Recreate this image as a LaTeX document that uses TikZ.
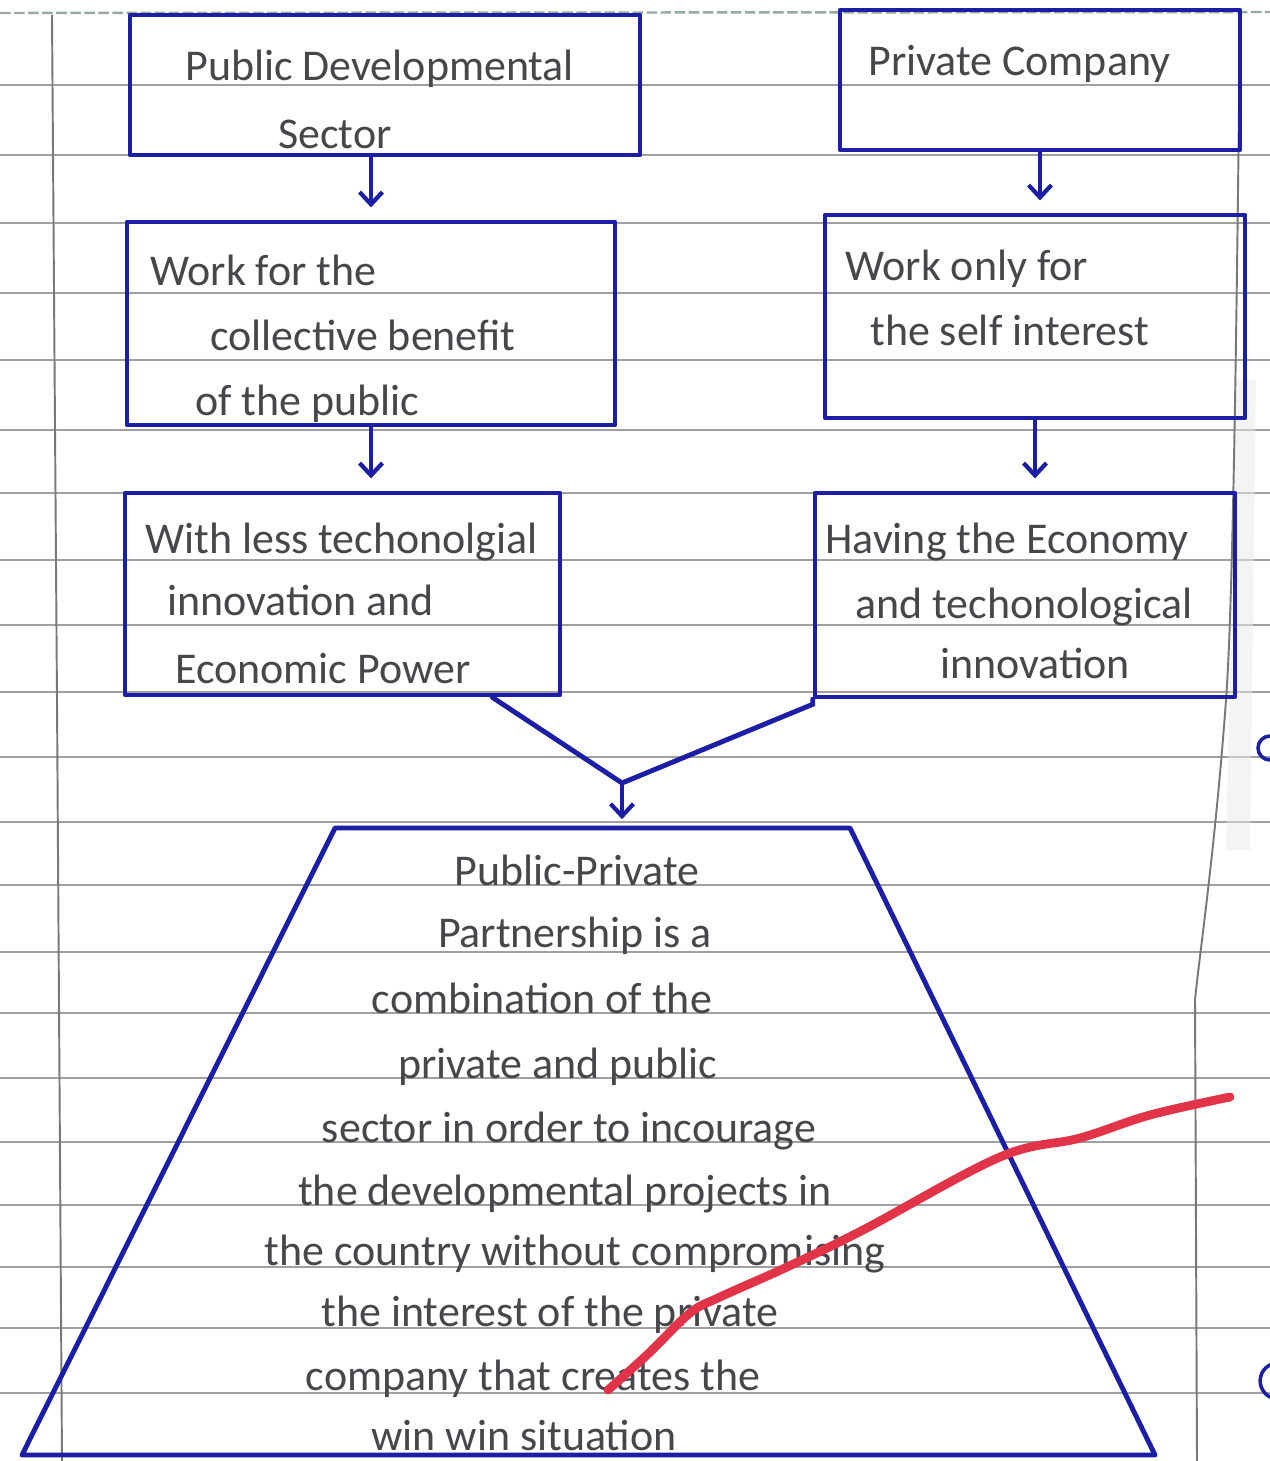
\documentclass[tikz,border=0pt]{standalone}
\usepackage{fontspec}
\setmainfont{Carlito}
\usetikzlibrary{arrows.meta,calc}
\definecolor{ink}{RGB}{28,30,165}
\definecolor{txt}{RGB}{70,70,75}
\definecolor{paperline}{RGB}{160,160,160}
\definecolor{margin}{RGB}{120,120,120}
\definecolor{redmark}{RGB}{226,52,72}
\definecolor{edgeline}{RGB}{150,170,160}
\begin{document}
\begin{tikzpicture}[x=0.02cm,y=-0.02cm,
  box/.style={draw=ink,line width=2.6pt,line join=round,inner sep=0pt},
  hand/.style={text=txt,font=\fontsize{25}{30}\selectfont,inner sep=0pt},
  arr/.style={draw=ink,line width=2.4pt,-{Straight Barb[length=7pt,width=13pt,line width=2.4pt]},shorten >=7pt},
  conn/.style={draw=ink,line width=2.8pt,line cap=round},
  paper/.style={draw=paperline,line width=0.8pt}
]
\useasboundingbox (0,0) rectangle (1270,1461);
\fill[white] (0,0) rectangle (1270,1461);

% ruled paper
\draw[edgeline,line width=1.4pt,dash pattern=on 6pt off 2pt] (0,13) -- (1270,12);
\foreach \y in {85,155,223,293,360,430,493,560,625,692,757,822,885,952,1013,1078,1142,1205,1267,1328,1393}
  \draw[paper] (0,\y) -- (1270,\y);
\draw[margin,line width=1.1pt] (52,15) -- (57,700) -- (62,1461);
\fill[black!8,opacity=0.5] (1236,380) -- (1256,380) -- (1250,850) -- (1226,850) -- cycle;
\draw[margin,line width=1.1pt] (1240,13) .. controls (1236,400) and (1232,620) .. (1226,700)
  .. controls (1215,850) and (1200,950) .. (1195,1000) -- (1197,1461);
\draw[ink,line width=2pt] (1270,736) arc[start angle=90,end angle=270,radius=0.24cm];
\draw[ink,line width=2pt] (1272,1364) arc[start angle=110,end angle=250,radius=0.36cm];

% boxes
\node[box,minimum width=10.2cm,minimum height=2.8cm] (b1) at (385,85) {};
\node[box,minimum width=8cm,minimum height=2.8cm] (b2) at (1040,80) {};
\node[box,minimum width=9.76cm,minimum height=4.06cm] (b3) at (371,323.5) {};
\node[box,minimum width=8.4cm,minimum height=4.06cm] (b4) at (1035,316.5) {};
\node[box,minimum width=8.7cm,minimum height=4.04cm] (b5) at (342.5,594) {};
\node[box,minimum width=8.4cm,minimum height=4.08cm] (b6) at (1025,595) {};

% box texts
\foreach \t/\x/\y [count=\i] in {
  Public Developmental/185/80, Sector/278/148,
  Private Company/868/75,
  Work for the/150/285, collective benefit/210/350, of the public/195/415,
  Work only for/845/280, the self interest/870/345,
  With less techonolgial/145/553, innovation and/167/615, Economic Power/175/683,
  Having the Economy/825/553, and techonological/855/618, innovation/940/678}
  \node[hand,anchor=base west] (w\i) at (\x,\y) {\t};

% partnership trapezoid
\coordinate (tl) at (335,828);
\coordinate (tr) at (850,828);
\coordinate (br) at (1155,1455);
\coordinate (bl) at (22,1455);
\coordinate (ptop) at (622,828);
\draw[box,line width=2.8pt] (tl) -- (tr) -- (br) -- (bl) -- cycle;
\foreach \t/\x/\y [count=\i] in {
  Public-Private/577/885, Partnership is a/575/947, combination of the/542/1013,
  private and public/558/1078, sector in order to incourage/569/1142,
  the developmental projects in/565/1205, the country without compromising/575/1265,
  the interest of the private/550/1326, company that creates the/533/1390,
  win win situation/524/1450}
  \node[hand,anchor=base] (p\i) at (\x,\y) {\t};

% connectors
\draw[arr] (b1.south -| b3.north) -- (b3.north);
\draw[arr] (b2.south) -- (b2.south |- b4.north);
\draw[arr] (b3.south) -- (b3.south |- b5.north);
\draw[arr] (b4.south) -- (b4.south |- b6.north);
\coordinate (vl) at ($(b5.south east)+(-70,0)$);
\coordinate (vm) at (622,783);
\draw[conn] (vl) -- (vm);
\draw[conn] (b6.south west) -- ++(0,5) -- (vm);
\draw[arr,shorten >=5pt] (vm) -- (ptop);

% red stroke
\draw[redmark,line width=5pt,line cap=round] plot[smooth,tension=0.6] coordinates
  {(608,1390) (649,1353) (690,1313) (720,1297) (787,1267) (863,1230) (1000,1157) (1080,1138) (1150,1115) (1230,1097)};
\end{tikzpicture}
\end{document}
